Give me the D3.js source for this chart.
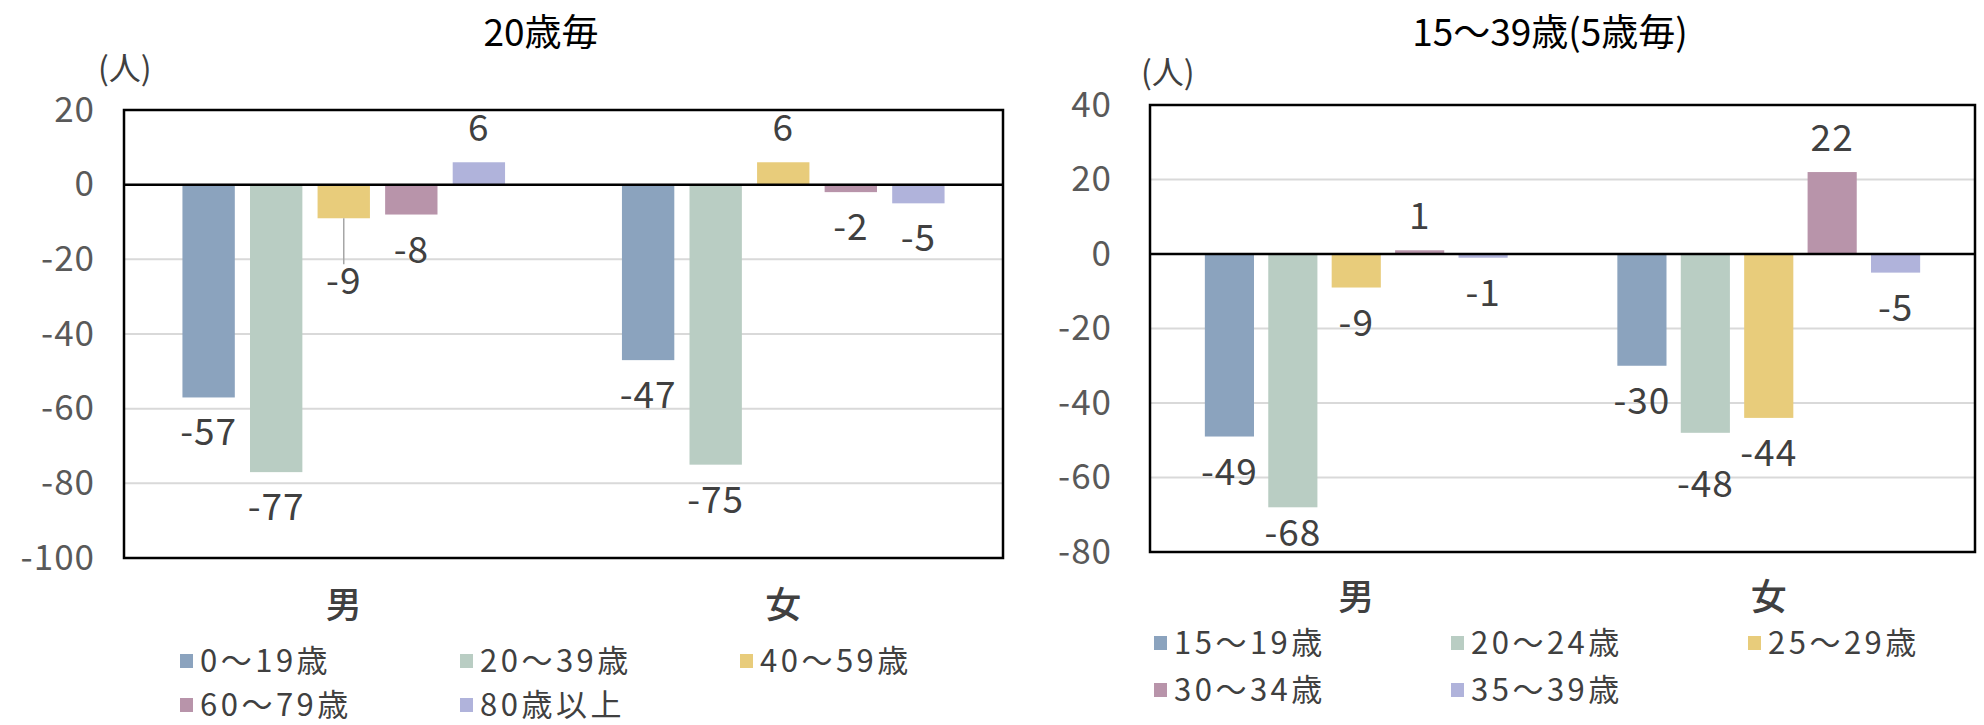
<!DOCTYPE html>
<html>
<head>
<meta charset="utf-8">
<script src="https://cdn.jsdelivr.net/npm/d3@7"></script>
<style>
  html, body { margin: 0; padding: 0; background: #fff; }
  svg { display: block; font-family: "Noto Sans CJK JP", "Noto Sans", sans-serif; }
</style>
</head>
<body>
<svg id="chart" width="1984" height="725"></svg>
<script>
// ---------------- data ----------------
const categories = ["男", "女"];

const title1 = "20歳毎";
const series1 = ["0～19歳", "20～39歳", "40～59歳", "60～79歳", "80歳以上"];
const male1 = [-57, -77, -9, -8, 6];
const female1 = [-47, -75, 6, -2, -5];
const ticks1 = [20, 0, -20, -40, -60, -80, -100];

const title2 = "15～39歳(5歳毎)";
const series2 = ["15～19歳", "20～24歳", "25～29歳", "30～34歳", "35～39歳"];
const male2 = [-49, -68, -9, 1, -1];
const female2 = [-30, -48, -44, 22, -5];
const ticks2 = [40, 20, 0, -20, -40, -60, -80];

const unitLabel = "(人)";
const colors = ["#8ba3be", "#b9cdc3", "#e8cc7b", "#b894aa", "#b0b3db"];

// ---------------- drawing ----------------
const svg = d3.select("#chart");

function drawChart(cfg) {
  const g = svg.append("g");
  const values = [cfg.male, cfg.female];
  const rows = [];
  categories.forEach((c, ci) => cfg.series.forEach((s, si) => rows.push({cat: c, ci, ser: s, si, v: values[ci][si]})));

  const y = d3.scaleLinear().domain([d3.min(cfg.ticks), d3.max(cfg.ticks)]).range([cfg.bottom, cfg.top]);
  const x0 = d3.scaleBand().domain(categories).range([cfg.left, cfg.right]);
  const x1 = d3.scaleBand().domain(cfg.series).range([0, x0.bandwidth()]).paddingInner(0.225).paddingOuter(0.865);

  // gridlines
  g.append("g").selectAll("line").data(cfg.ticks).join("line")
    .attr("x1", cfg.left).attr("x2", cfg.right)
    .attr("y1", d => y(d)).attr("y2", d => y(d))
    .attr("stroke", "#d9d9d9").attr("stroke-width", 2);

  // y axis labels
  const axis = d3.axisLeft(y).tickValues(cfg.ticks).tickSize(0).tickPadding(cfg.tickGap).tickFormat(d => String(d));
  const ag = g.append("g").attr("transform", `translate(${cfg.left},0)`).call(axis);
  ag.select(".domain").remove();
  ag.selectAll("text").attr("font-size", 35).attr("fill", "#595959")
    .attr("letter-spacing", 1)
    .attr("font-family", "'Noto Sans CJK JP', sans-serif");

  // bars
  g.append("g").selectAll("rect").data(rows).join("rect")
    .attr("x", d => x0(d.cat) + x1(d.ser))
    .attr("width", x1.bandwidth())
    .attr("y", d => Math.min(y(d.v), y(0)))
    .attr("height", d => Math.abs(y(d.v) - y(0)))
    .attr("fill", d => colors[d.si]);

  // zero line
  g.append("line").attr("x1", cfg.left).attr("x2", cfg.right)
    .attr("y1", y(0)).attr("y2", y(0)).attr("stroke", "#000").attr("stroke-width", 2.5);

  // border
  g.append("rect").attr("x", cfg.left).attr("y", cfg.top)
    .attr("width", cfg.right - cfg.left).attr("height", cfg.bottom - cfg.top)
    .attr("fill", "none").attr("stroke", "#000").attr("stroke-width", 2.5);

  // data labels
  rows.forEach(d => {
    const cx = x0(d.cat) + x1(d.ser) + x1.bandwidth() / 2;
    const end = y(d.v);
    let base = d.v >= 0 ? end - 21 : end + 48;
    const key = d.ci + "-" + d.si;
    const extra = (cfg.labelShift && cfg.labelShift[key]) || 0;
    base += extra;
    if (base > cfg.bottom - 6) base = cfg.bottom - 6;
    if (extra && cfg.leader && cfg.leader[key]) {
      g.append("line").attr("x1", cx).attr("x2", cx)
        .attr("y1", end).attr("y2", base - 30)
        .attr("stroke", "#a6a6a6").attr("stroke-width", 1.5);
    }
    g.append("text").attr("x", cx).attr("y", base)
      .attr("text-anchor", "middle").attr("font-size", 37).attr("letter-spacing", 1)
      .attr("fill", "#404040").text(d.v);
  });

  // title
  g.append("text").attr("x", cfg.titleX).attr("y", 46).attr("text-anchor", "middle")
    .attr("font-size", 37).attr("fill", "#000").text(cfg.title);

  // unit label
  g.append("text").attr("x", cfg.unitX).attr("y", cfg.unitY).attr("font-size", 32)
    .attr("fill", "#404040").text(unitLabel);

  // category labels
  g.append("g").selectAll("text").data(categories).join("text")
    .attr("x", d => x0(d) + x0.bandwidth() / 2).attr("y", cfg.catY)
    .attr("text-anchor", "middle").attr("font-size", 36).attr("font-weight", 500)
    .attr("fill", "#404040").text(d => d);

  // legend
  const lg = g.append("g");
  cfg.series.forEach((s, i) => {
    const col = i % 3, row = Math.floor(i / 3);
    const lx = cfg.legendX + col * cfg.legendColW;
    const ly = cfg.legendY + row * cfg.legendRowH;
    lg.append("rect").attr("x", lx).attr("y", ly - 7).attr("width", 13).attr("height", 14)
      .attr("fill", colors[i]);
    lg.append("text").attr("x", lx + 20).attr("y", ly + 11)
      .attr("font-size", 31).attr("letter-spacing", 3.5).attr("fill", "#404040").text(s);
  });
}

drawChart({
  title: title1, series: series1, male: male1, female: female1, ticks: ticks1,
  left: 124, right: 1003, top: 110, bottom: 558, tickGap: 29,
  titleX: 541, unitX: 98, unitY: 80, catY: 618,
  legendX: 180, legendY: 661, legendColW: 280, legendRowH: 44,
  labelShift: {"0-2": 28}, leader: {"0-2": true}
});

drawChart({
  title: title2, series: series2, male: male2, female: female2, ticks: ticks2,
  left: 1150, right: 1975, top: 105, bottom: 552, tickGap: 38,
  titleX: 1550, unitX: 1141, unitY: 84, catY: 610,
  legendX: 1154, legendY: 643, legendColW: 297, legendRowH: 47,
  labelShift: {"1-1": 16}
});
</script>
</body>
</html>
